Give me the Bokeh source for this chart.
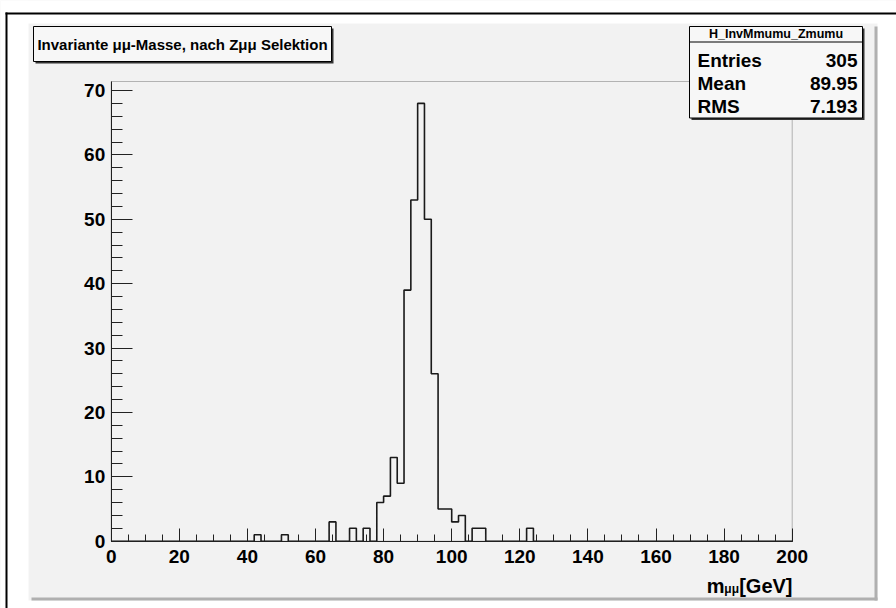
import numpy as np
from bokeh.plotting import figure
from bokeh.models import Range1d, SingleIntervalTicker, BoxAnnotation, Label, LinearAxis
from bokeh.embed import file_html
from bokeh.resources import INLINE

# ---------------- data ----------------
x_start, x_end, bin_width = 0, 200, 2
bin_lows = [42, 50, 64, 70, 74, 78, 80, 82, 84, 86, 88, 90, 92, 94, 96, 98, 100, 102, 106, 108, 122]
bin_counts = [1, 1, 3, 2, 2, 6, 7, 13, 9, 39, 53, 68, 50, 26, 5, 5, 3, 4, 2, 2, 2]
y_top = 71.4
x_tick_step = 20
y_tick_step = 10
title_text = "Invariante μμ-Masse, nach Zμμ Selektion"
stats_title = "H_InvMmumu_Zmumu"
stats_names = ["Entries", "Mean", "RMS"]
stats_values = ["305", "89.95", "7.193"]
axis_title_main = "m"
axis_title_sub = "μμ"
axis_title_unit = "[GeV]"

# histogram outline built from the bins
edges = np.arange(x_start, x_end + bin_width, bin_width)
counts = np.zeros(len(edges) - 1)
idx = ((np.array(bin_lows) - x_start) // bin_width).astype(int)
counts[idx] = bin_counts
step_y = np.append(counts, counts[-1])

# ---------------- layout (pixels) ----------------
W, H = 896, 608
FRAME_L, FRAME_R, FRAME_T, FRAME_B = 110.7, 791.7, 81.0, 540.7
CANVAS = "#f2f2f2"
FONT = "Liberation Sans"
DARK = "#222222"

sx = (FRAME_R - FRAME_L) / (x_end - x_start)
sy = (FRAME_B - FRAME_T) / y_top
x_range = Range1d(x_start - FRAME_L / sx, x_end + (W - FRAME_R) / sx)
y_range = Range1d(0 - (H - FRAME_B) / sy, y_top + FRAME_T / sy)

p = figure(width=W, height=H, x_range=x_range, y_range=y_range, title=None,
           min_border=0, x_axis_type=None, y_axis_type=None,
           toolbar_location=None, output_backend="svg",
           background_fill_color=CANVAS, border_fill_color=CANVAS,
           outline_line_color=None)
p.grid.visible = False


def cbox(l, r, t, b, fill, line=None, lw=1):
    bx = BoxAnnotation(left=l, right=r, top=t, bottom=b,
                       left_units="canvas", right_units="canvas",
                       top_units="canvas", bottom_units="canvas",
                       fill_color=fill, fill_alpha=1.0,
                       line_color=line if line else "black", line_width=lw,
                       line_alpha=1.0 if line else 0.0)
    p.add_layout(bx)
    return bx


def clabel(x, y, text, size, align="left", baseline="middle", style="bold", font=FONT):
    lb = Label(x=x, y=y, x_units="canvas", y_units="canvas", text=text,
               text_font=font, text_font_style=style, text_font_size=size,
               text_align=align, text_baseline=baseline, text_color="black")
    p.add_layout(lb)
    return lb


# white surroundings of the pad, window border, pad shadow
cbox(0, W, 0, 23, "white")
cbox(0, 28, 0, H, "white")
cbox(877, W, 0, H, "white")
cbox(0, W, 600, H, "white")
cbox(874, 877, 26, 600, "#b0b0b0")
cbox(31, 877, 597, 600, "#b0b0b0")
cbox(5, 7, 12, H, "black")
cbox(5, W, 12, 14, "black")

# histogram
p.step(x=edges, y=step_y, mode="after", line_color="#1a1a1a", line_width=1.6)

# frame border (data box)
p.add_layout(BoxAnnotation(left=x_start, right=x_end, bottom=0, top=y_top,
                           fill_alpha=0.0, line_color=DARK, line_width=1))

# axes at fixed data locations
xaxis = LinearAxis(fixed_location=0, bounds=(x_start, x_end),
                   ticker=SingleIntervalTicker(interval=x_tick_step, num_minor_ticks=4))
yaxis = LinearAxis(fixed_location=x_start, bounds=(0, y_top),
                   ticker=SingleIntervalTicker(interval=y_tick_step, num_minor_ticks=5))
for ax in (xaxis, yaxis):
    ax.axis_line_color = DARK
    ax.major_tick_line_color = DARK
    ax.minor_tick_line_color = DARK
    ax.major_tick_out = 0
    ax.minor_tick_out = 0
    ax.major_label_text_font = FONT
    ax.major_label_text_font_style = "bold"
    ax.major_label_text_font_size = "19px"
    ax.major_label_text_color = "black"
xaxis.major_tick_in = 13
xaxis.minor_tick_in = 7
yaxis.major_tick_in = 21
yaxis.minor_tick_in = 11
xaxis.major_label_standoff = 9
yaxis.major_label_standoff = 6
p.add_layout(xaxis, "below")
p.add_layout(yaxis, "left")

# title box
cbox(35, 333, 28, 63, "#333333")
cbox(33, 331, 26, 61, "#f7f7f7", "black", 1)
clabel(182, 43.5, title_text, "15px", align="center")

# stats box
cbox(691, 864, 28, 119.5, "#333333")
cbox(689, 862, 26, 117.5, "#f7f7f7", "black", 1)
cbox(689, 862, 41, 42, "black")
clabel(775.5, 33, stats_title, "12.5px", align="center")
for i, (nm, vl) in enumerate(zip(stats_names, stats_values)):
    yy = 60 + 23 * i
    clabel(697, yy, nm, "19px", align="left")
    clabel(857, yy, vl, "19px", align="right")

# x axis title
clabel(792, 585, axis_title_unit, "20px", align="right", baseline="alphabetic")
clabel(738.5, 588, axis_title_sub, "12px", align="right", baseline="alphabetic")
clabel(724, 585, axis_title_main, "20px", align="right", baseline="alphabetic")

open("out.html", "w").write(file_html(p, INLINE))
